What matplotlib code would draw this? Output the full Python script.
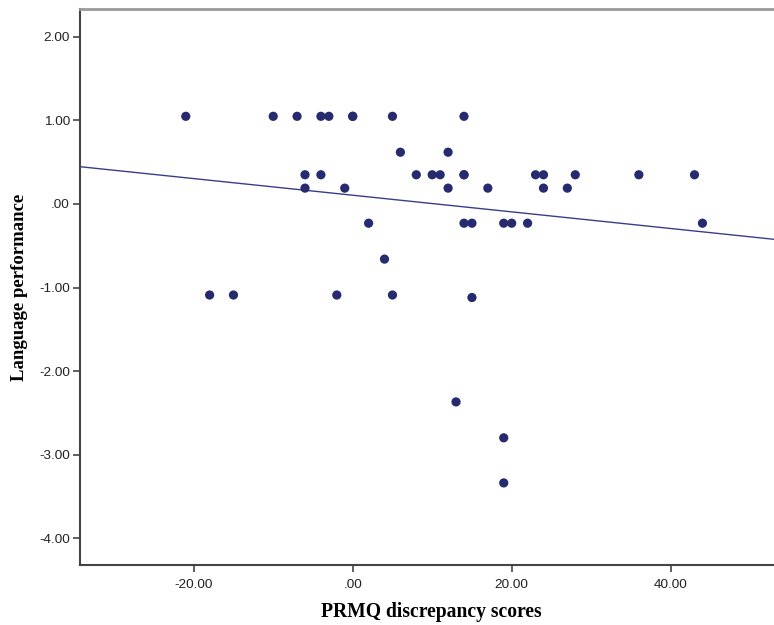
import matplotlib
matplotlib.use("Agg")
import matplotlib.pyplot as plt
import numpy as np

# Data
prmq = [-21, -10, -7, -4, -3, 0, 0, 5, 14,
        6, 12,
        -6, -4, 8, 10, 11, 14, 14, 23, 24, 28, 36, 43,
        -6, -1, 12, 17, 24, 27,
        2, 14, 15, 19, 20, 22, 44,
        4,
        -18, -15, -2, 5, 15,
        13, 19, 19]
language = [1.05, 1.05, 1.05, 1.05, 1.05, 1.05, 1.05, 1.05, 1.05,
            0.62, 0.62,
            0.35, 0.35, 0.35, 0.35, 0.35, 0.35, 0.35, 0.35, 0.35, 0.35, 0.35, 0.35,
            0.19, 0.19, 0.19, 0.19, 0.19, 0.19,
            -0.23, -0.23, -0.23, -0.23, -0.23, -0.23, -0.23,
            -0.66,
            -1.09, -1.09, -1.09, -1.09, -1.12,
            -2.37, -2.80, -3.34]
fit_intercept = 0.105
fit_slope = -0.00996

x_ticks = [-20, 0, 20, 40]
x_ticklabels = ["-20.00", ".00", "20.00", "40.00"]
y_ticks = [2, 1, 0, -1, -2, -3, -4]
y_ticklabels = ["2.00", "1.00", ".00", "-1.00", "-2.00", "-3.00", "-4.00"]

fig = plt.figure(figsize=(7.74, 6.25), dpi=100)
ax = fig.add_axes([79.5 / 774, 1 - 565 / 625, 1 - 79.5 / 774, (565 - 9) / 625])

xlim = (-34.37, 53.0)
ax.set_xlim(*xlim)
ax.set_ylim(-4.323, 2.335)

xs = np.array(xlim)
ax.plot(xs, fit_intercept + fit_slope * xs, color="#3a3d8a", lw=1.0, zorder=2)
ax.scatter(prmq, language, s=44, color="#262a6e", edgecolors="none", zorder=3)

ax.set_xticks(x_ticks)
ax.set_xticklabels(x_ticklabels)
ax.set_yticks(y_ticks)
ax.set_yticklabels(y_ticklabels)
for lab in ax.get_xticklabels() + ax.get_yticklabels():
    lab.set_family("Liberation Sans")
    lab.set_fontsize(9.7)
    lab.set_color("#222222")
ax.tick_params(axis="both", direction="out", length=5, width=1.2, color="#444444")
ax.tick_params(axis="x", pad=5)
ax.tick_params(axis="y", pad=2)

for side in ["left", "bottom"]:
    ax.spines[side].set_color("#444444")
    ax.spines[side].set_linewidth(1.5)
ax.spines["top"].set_color("#999999")
ax.spines["top"].set_linewidth(2)
ax.spines["right"].set_visible(False)

ax.set_xlabel("PRMQ discrepancy scores", family="Liberation Serif", fontweight="bold",
              fontsize=14.1)
ax.set_ylabel("Language performance", family="Liberation Serif", fontweight="bold",
              fontsize=13.5)
ax.xaxis.set_label_coords(0.506, -0.066)
ax.yaxis.set_label_coords(-0.0745, 0.499)

fig.savefig("out.png", dpi=100)
